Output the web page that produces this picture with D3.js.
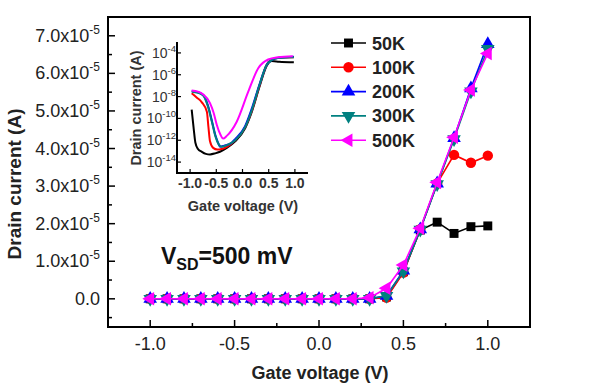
<!DOCTYPE html>
<html>
<head>
<meta charset="utf-8">
<script src="https://cdn.jsdelivr.net/npm/d3@7"></script>
<style>
  body { margin: 0; background: #fff; }
  svg { font-family: Arial, "Liberation Sans", sans-serif; }
</style>
</head>
<body>
<script>
// main plot: gate voltage sweep, current in units of 1e-5 A
const gateV = [-1.0,-0.9,-0.8,-0.7,-0.6,-0.5,-0.4,-0.3,-0.2,-0.1,0.0,0.1,0.2,0.3,0.4,0.5,0.6,0.7,0.8,0.9,1.0];
const i50K  = [0,0,0,0,0,0,0,0,0,0,0,0,0,0,0.05,0.72,1.83,2.04,1.74,1.92,1.94];
const i100K = [0,0,0,0,0,0,0,0,0,0,0,0,0,0,0.03,0.70,1.85,3.07,3.83,3.62,3.81];
const i200K = [0,0,0,0,0,0,0,0,0,0,0,0,0,0,0.08,0.75,1.85,3.07,4.28,5.60,6.78];
const i300K = [0,0,0,0,0,0,0,0,0,0,0,0,0,0,0.08,0.73,1.84,3.05,4.25,5.52,6.65];
const i500K = [0,0,0,0,0,0,0,0,0,0,0,0,0,0.03,0.28,0.90,1.88,3.10,4.30,5.56,6.53];

const labels = ["50K", "100K", "200K", "300K", "500K"];
const colors = ["#000000", "#ff0000", "#0000ff", "#008080", "#ff00ff"];
const shapes = ["square", "circle", "triUp", "triDown", "triLeft"];
const yTicks = [0, 1, 2, 3, 4, 5, 6, 7];

// inset: [gate voltage, log10 of drain current]
const log50K = [[-0.97,-9.2],[-0.93,-11.0],[-0.9,-12.2],[-0.85,-12.8],[-0.78,-13.05],[-0.7,-13.25],[-0.62,-13.3],[-0.52,-13.2],[-0.43,-13.05],[-0.3,-12.7],[-0.14,-12.1],[0.05,-10.9],[0.17,-9.5],[0.33,-7.0],[0.46,-5.2],[0.56,-4.75],[0.7,-4.8],[0.98,-4.85]];
const log100K = [[-0.97,-7.7],[-0.87,-8.1],[-0.78,-8.5],[-0.68,-9.4],[-0.65,-10.8],[-0.62,-12.1],[-0.56,-12.7],[-0.48,-12.85],[-0.4,-12.8],[-0.3,-12.6],[-0.14,-12.0],[0.05,-10.8],[0.17,-9.4],[0.33,-6.9],[0.46,-5.1],[0.56,-4.6],[0.7,-4.45],[0.98,-4.4]];
const log200K = [[-0.97,-7.5],[-0.85,-7.6],[-0.75,-7.85],[-0.66,-8.8],[-0.58,-10.3],[-0.52,-11.5],[-0.46,-12.3],[-0.43,-12.6],[-0.35,-12.5],[-0.2,-12.2],[-0.14,-11.9],[0.05,-10.7],[0.17,-9.2],[0.33,-6.8],[0.46,-5.1],[0.56,-4.65],[0.7,-4.45],[0.98,-4.35]];
const log300K = [[-0.97,-7.55],[-0.85,-7.65],[-0.75,-7.9],[-0.66,-8.9],[-0.58,-10.4],[-0.52,-11.6],[-0.45,-12.4],[-0.4,-12.6],[-0.3,-12.45],[-0.14,-12.0],[0.05,-10.8],[0.17,-9.35],[0.33,-6.85],[0.46,-5.1],[0.56,-4.65],[0.7,-4.45],[0.98,-4.4]];
const log500K = [[-0.97,-7.45],[-0.85,-7.55],[-0.75,-7.8],[-0.62,-8.6],[-0.55,-9.5],[-0.49,-10.6],[-0.42,-11.5],[-0.37,-11.85],[-0.3,-11.6],[-0.11,-10.3],[0.11,-7.55],[0.3,-5.4],[0.49,-4.6],[0.68,-4.4],[0.96,-4.3]];
const insetYTicks = [-4, -6, -8, -10, -12, -14];

const width = 613, height = 384;
const svg = d3.select("body").append("svg")
    .attr("width", width)
    .attr("height", height);

// plain hyphen instead of unicode minus, like the original
const fmt = d => d3.format(".1f")(d).replace("\u2212", "-");

const x = d3.scaleLinear().domain([-1.25, 1.25]).range([108, 530]);
const y = d3.scaleLinear().domain([-0.75, 7.5]).range([327, 17]);

// frame
svg.append("rect")
    .attr("x", 108).attr("y", 17)
    .attr("width", 422).attr("height", 310)
    .attr("fill", "none").attr("stroke", "#000").attr("stroke-width", 2);

// ticks (inward)
const xMajor = [-1, -0.5, 0, 0.5, 1];
const xMinor = [-0.75, -0.25, 0.25, 0.75];
svg.selectAll(".xmaj").data(xMajor).enter().append("line")
    .attr("x1", d => x(d)).attr("x2", d => x(d))
    .attr("y1", 327).attr("y2", 320)
    .attr("stroke", "#000").attr("stroke-width", 1.5);
svg.selectAll(".xmin").data(xMinor).enter().append("line")
    .attr("x1", d => x(d)).attr("x2", d => x(d))
    .attr("y1", 327).attr("y2", 323)
    .attr("stroke", "#000").attr("stroke-width", 1.5);
svg.selectAll(".ymaj").data(yTicks).enter().append("line")
    .attr("x1", 108).attr("x2", 115)
    .attr("y1", d => y(d)).attr("y2", d => y(d))
    .attr("stroke", "#000").attr("stroke-width", 1.5);
svg.selectAll(".ymin").data(d3.range(-0.5, 7.5, 1)).enter().append("line")
    .attr("x1", 108).attr("x2", 112)
    .attr("y1", d => y(d)).attr("y2", d => y(d))
    .attr("stroke", "#000").attr("stroke-width", 1.5);

// tick labels
svg.selectAll(".xlab").data(xMajor).enter().append("text")
    .attr("x", d => x(d)).attr("y", 350)
    .attr("text-anchor", "middle")
    .attr("font-size", 18).attr("fill", "#222")
    .text(fmt);

const ylab = svg.selectAll(".ylab").data(yTicks).enter().append("text")
    .attr("x", 100).attr("y", d => y(d) + 6)
    .attr("text-anchor", "end")
    .attr("font-size", 18).attr("fill", "#222");
ylab.append("tspan").text(d => d === 0 ? "0.0" : fmt(d) + "x10");
ylab.filter(d => d !== 0).append("tspan")
    .attr("dy", -8).attr("font-size", 12).text("-5");

// axis titles
svg.append("text")
    .attr("x", 320).attr("y", 379)
    .attr("text-anchor", "middle")
    .attr("font-size", 18).attr("font-weight", "bold").attr("fill", "#222")
    .text("Gate voltage (V)");
svg.append("text")
    .attr("transform", "translate(21,184) rotate(-90)")
    .attr("text-anchor", "middle")
    .attr("font-size", 19).attr("font-weight", "bold").attr("fill", "#222")
    .text("Drain current (A)");

// V_SD annotation
const vsd = svg.append("text")
    .attr("x", 161).attr("y", 264)
    .attr("font-size", 23).attr("font-weight", "bold").attr("fill", "#111");
vsd.append("tspan").text("V");
vsd.append("tspan").attr("dy", 6).attr("font-size", 16).text("SD");
vsd.append("tspan").attr("dy", -6).text("=500 mV");

// markers
const symType = {
    square: d3.symbolSquare, circle: d3.symbolCircle,
    triUp: d3.symbolTriangle, triDown: d3.symbolTriangle, triLeft: d3.symbolTriangle
};
const symRot = { square: 0, circle: 0, triUp: 0, triDown: 180, triLeft: -90 };
function marker(g, shape, color, cx, cy) {
    g.append("path")
        .attr("d", d3.symbol().type(symType[shape]).size(shape === "circle" ? 85 : 80)())
        .attr("transform", `translate(${cx},${cy}) rotate(${symRot[shape]})`)
        .attr("fill", color);
}

// series
const series = [i50K, i100K, i200K, i300K, i500K];
const line = d3.line().x(d => x(d[0])).y(d => y(d[1]));
series.forEach((vals, k) => {
    const pts = gateV.map((v, i) => [v, vals[i]]);
    const g = svg.append("g");
    g.append("path").datum(pts)
        .attr("d", line)
        .attr("fill", "none").attr("stroke", colors[k]).attr("stroke-width", 1.6);
    pts.forEach(p => marker(g, shapes[k], colors[k], x(p[0]), y(p[1])));
});

// legend
labels.forEach((lab, k) => {
    const ly = 43 + k * 24.3;
    const g = svg.append("g");
    g.append("line")
        .attr("x1", 331).attr("x2", 366).attr("y1", ly).attr("y2", ly)
        .attr("stroke", colors[k]).attr("stroke-width", 1.6);
    marker(g, shapes[k], colors[k], 348.5, ly);
    g.append("text")
        .attr("x", 372).attr("y", ly + 6.5)
        .attr("font-size", 18).attr("font-weight", "bold").attr("fill", "#222")
        .text(lab);
});

// inset
const ix = d3.scaleLinear().domain([-1.25, 1.25]).range([177, 308]);
const iy = d3.scaleLog().domain([1e-15, 1e-3]).range([173, 42]);

svg.append("path")
    .attr("d", `M177,42V173H308`)
    .attr("fill", "none").attr("stroke", "#000").attr("stroke-width", 2);

svg.selectAll(".ixt").data(xMajor).enter().append("line")
    .attr("x1", d => ix(d)).attr("x2", d => ix(d))
    .attr("y1", 173).attr("y2", 169)
    .attr("stroke", "#000").attr("stroke-width", 1.2);
svg.selectAll(".iyt").data(insetYTicks).enter().append("line")
    .attr("x1", 177).attr("x2", 181)
    .attr("y1", d => iy(Math.pow(10, d))).attr("y2", d => iy(Math.pow(10, d)))
    .attr("stroke", "#000").attr("stroke-width", 1.2);

svg.selectAll(".ixl").data(xMajor).enter().append("text")
    .attr("x", d => ix(d)).attr("y", 188)
    .attr("text-anchor", "middle")
    .attr("font-size", 14).attr("font-weight", "bold").attr("fill", "#333")
    .text(fmt);

const iyl = svg.selectAll(".iyl").data(insetYTicks).enter().append("text")
    .attr("x", 176).attr("y", d => iy(Math.pow(10, d)) + 5)
    .attr("text-anchor", "end")
    .attr("font-size", 14).attr("fill", "#333");
iyl.append("tspan").text("10");
iyl.append("tspan").attr("dy", -6).attr("font-size", 9.5).text(d => d);

svg.append("text")
    .attr("x", 243).attr("y", 211)
    .attr("text-anchor", "middle")
    .attr("font-size", 14.5).attr("font-weight", "bold").attr("fill", "#333")
    .text("Gate voltage (V)");
svg.append("text")
    .attr("transform", "translate(141,108) rotate(-90)")
    .attr("text-anchor", "middle")
    .attr("font-size", 14.5).attr("font-weight", "bold").attr("fill", "#333")
    .text("Drain current (A)");

const insetSeries = [log50K, log100K, log200K, log300K, log500K];
const iline = d3.line().curve(d3.curveMonotoneX)
    .x(d => ix(d[0])).y(d => iy(Math.pow(10, d[1])));
insetSeries.forEach((pts, k) => {
    svg.append("path").datum(pts)
        .attr("d", iline)
        .attr("fill", "none").attr("stroke", colors[k]).attr("stroke-width", 2);
});
</script>
</body>
</html>
